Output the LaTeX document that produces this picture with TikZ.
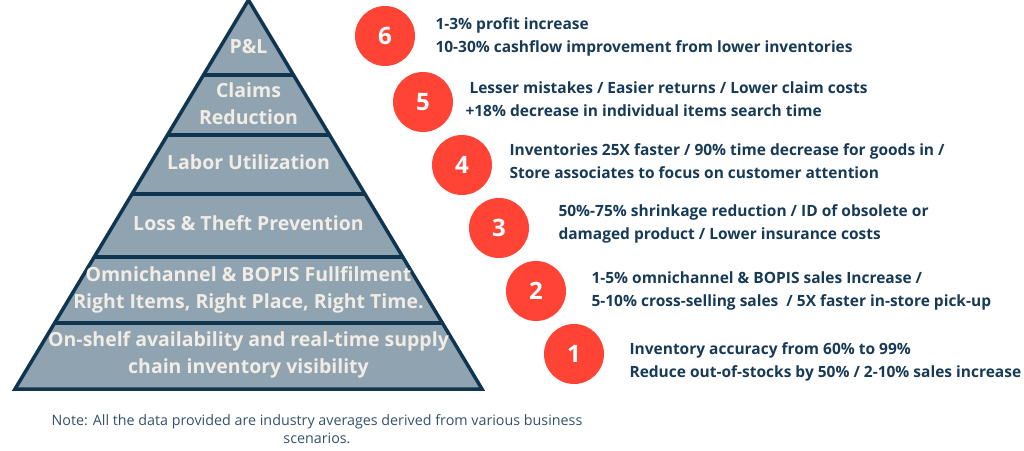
\documentclass[tikz,border=0pt]{standalone}
\usepackage{fontspec}
\setmainfont{Open Sans}
\usepackage{tikz}

\definecolor{navy}{HTML}{0F3550}
\definecolor{slate}{HTML}{8FA3B1}
\definecolor{cream}{HTML}{F1ECE4}
\definecolor{tomato}{HTML}{FF4436}
\definecolor{inkblue}{HTML}{173A57}
\definecolor{noteblue}{HTML}{34516B}

\begin{document}
\begin{tikzpicture}[
        x=1pt, y=-1pt,
        level/.style={
            text=cream,
            font=\bfseries\fontsize{19.5}{27}\selectfont,
            align=center
        },
        badge/.style={
            circle,
            fill=tomato,
            minimum size=60pt,
            inner sep=0pt,
            text=white,
            font=\bfseries\fontsize{24}{24}\selectfont
        },
        gain/.style={
            anchor=west,
            text=inkblue,
            font=\bfseries\fontsize{15.5}{23}\selectfont,
            align=left
        }
    ]
        \useasboundingbox (0,0) rectangle (1024,450);

        % Pyramid body
        \fill[slate] (248.5,0) -- (482,389) -- (15,389) -- cycle;
        \foreach \y in {75,135,194,257,323} {
            \draw[navy, line width=4pt] ({248.5-0.6003*\y},\y) -- ({248.5+0.6003*\y},\y);
        }
        \draw[navy, line width=3.5pt, line join=miter] (248.5,0) -- (482,389) -- (15,389) -- cycle;

        % Pyramid levels
        \node[level] (l6) at (248.5,47) {P\&L};
        \node[level] (l5) at (248.5,103.5) {Claims\\Reduction};
        \node[level] (l4) at (248.5,162) {Labor Utilization};
        \node[level] (l3) at (248.5,223) {Loss \& Theft Prevention};
        \node[level] (l2) at (248.5,290) {Omnichannel \& BOPIS Fullfilment\\Right Items, Right Place, Right Time.};
        \node[level] (l1) at (248.5,355) {On-shelf availability and real-time supply\\chain inventory visibility};

        % Numbered badges
        \foreach \n/\x/\y in {6/385/36, 5/423/102, 4/462/165, 3/499/228, 2/536/291, 1/574/354} {
            \node[badge] (p\n) at (\x,\y) {\n};
        }

        % Benefits
        \node[gain] (b6) at (432,36.5) {1-3\% profit increase\\10-30\% cashflow improvement from lower inventories};
        \node[gain] (b5) at (462,99) {\hspace{4pt}Lesser mistakes / Easier returns / Lower claim costs\\+18\% decrease in individual items search time};
        \node[gain] (b4) at (506,161.5) {Inventories 25X faster / 90\% time decrease for goods in /\\Store associates to focus on customer attention};
        \node[gain] (b3) at (555,224) {50\%-75\% shrinkage reduction / ID of obsolete or\\damaged product / Lower insurance costs};
        \node[gain] (b2) at (588,291) {1-5\% omnichannel \& BOPIS sales Increase /\\5-10\% cross-selling sales \ / 5X faster in-store pick-up};
        \node[gain] (b1) at (626,361.5) {Inventory accuracy from 60\% to 99\%\\Reduce out-of-stocks by 50\% / 2-10\% sales increase};

        % Note
        \node[text=noteblue, font=\fontsize{14.3}{18}\selectfont, align=center] (note) at (317,429)
            {Note: All the data provided are industry averages derived from various business\\scenarios.};
    \end{tikzpicture}
\end{document}
